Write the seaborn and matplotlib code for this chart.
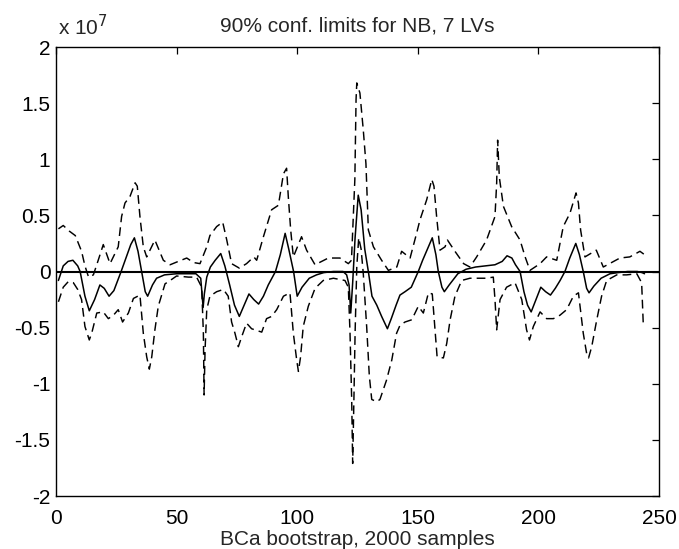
import numpy as np
import pandas as pd
import seaborn as sns
from matplotlib import pyplot as plt

# values, in units of 1e7
# solid line: the estimate
est_x = [1, 3, 5, 7, 9, 10, 12, 13.8, 16, 18.2,
         20, 22, 24, 27, 29, 31, 32.5, 34, 35.5, 37,
         38, 40, 41.7, 45, 50, 55, 58, 60, 61, 61.5,
         62.5, 64, 66, 68.3, 70, 72, 74, 76, 78, 80,
         82, 84, 86, 88, 91, 93, 95, 96.5, 98.5, 100,
         102, 105, 108, 111, 115, 119, 120.5, 121.5, 122.2, 123,
         124, 125.3, 126.5, 128, 129.5, 131, 133, 135, 137.4, 139,
         141, 142.6, 144.7, 147.3, 150.2, 152, 154, 156, 157.5, 158.5,
         160, 161, 163, 166.6, 170, 174, 178, 182, 185, 187,
         189, 190.5, 192.4, 194, 195.5, 197, 199, 201, 203, 205,
         207, 209, 211, 213, 215.5, 217, 218.6, 220, 221, 223,
         226, 229.7, 233, 237, 241, 243, 244]
est_y = [-0.08, 0.05, 0.09, 0.10, 0.05, 0.0, -0.22, -0.35, -0.25, -0.12,
         -0.15, -0.22, -0.17, 0.0, 0.12, 0.24, 0.30, 0.18, 0.0, -0.18,
         -0.22, -0.12, -0.06, -0.03, -0.02, -0.02, -0.02, -0.06, -0.32, -0.20,
         -0.05, 0.04, 0.10, 0.16, 0.05, -0.12, -0.30, -0.40, -0.30, -0.20,
         -0.25, -0.29, -0.22, -0.12, 0.0, 0.15, 0.34, 0.20, 0.0, -0.22,
         -0.14, -0.06, -0.03, -0.01, 0.0, 0.0, -0.03, -0.12, -0.37, -0.10,
         0.30, 0.68, 0.55, 0.20, 0.0, -0.22, -0.30, -0.40, -0.51, -0.42,
         -0.30, -0.21, -0.18, -0.14, 0.0, 0.10, 0.20, 0.30, 0.15, 0.0,
         -0.14, -0.18, -0.12, -0.02, 0.02, 0.04, 0.05, 0.06, 0.09, 0.14,
         0.12, 0.06, 0.0, -0.18, -0.30, -0.36, -0.25, -0.14, -0.18, -0.21,
         -0.15, -0.08, 0.0, 0.12, 0.25, 0.15, 0.0, -0.15, -0.19, -0.13,
         -0.06, -0.02, -0.01, 0.0, 0.0, -0.01, -0.02]

# upper 90% limit (dashed)
up_x = [1, 3, 5.5, 8, 10.6, 12, 13.5, 15.5, 17.5, 19.6,
        22.4, 25.8, 27.2, 28.6, 30.7, 32.8, 33.7, 34.8, 36.2, 37.6,
        41, 44.5, 47.3, 50.7, 54.2, 57, 59.7, 62.5, 63.8, 66.6,
        69.1, 70.8, 72.8, 76, 79, 82, 83.2, 86, 89.4, 92.2,
        94.3, 95.6, 96.3, 97.3, 98.4, 101.8, 103.9, 107.4, 112.9, 117.7,
        121.2, 122.5, 123.9, 124.4, 124.7, 126, 127.4, 128.5, 129.5, 131.6,
        135, 137.8, 141.3, 143.3, 146.8, 149.5, 150.9, 153.7, 155.8, 156.7,
        157.8, 159.2, 161.3, 162.3, 165.4, 169, 171.6, 174.4, 178.5, 182,
        182.7, 183.1, 183.8, 185.5, 188.9, 192.4, 194.5, 196.5, 200.7, 203.4,
        207.6, 210.3, 213.1, 215.6, 216.6, 217.5, 219.3, 224, 226.9, 233.8,
        237.9, 242.1, 244]
up_y = [0.38, 0.41, 0.36, 0.32, 0.18, 0.05, -0.05, -0.03, 0.10, 0.24,
        0.07, 0.22, 0.49, 0.61, 0.67, 0.79, 0.76, 0.49, 0.22, 0.13,
        0.28, 0.10, 0.06, 0.09, 0.12, 0.08, 0.07, 0.22, 0.32, 0.40,
        0.44, 0.28, 0.07, 0.03, 0.07, 0.13, 0.10, 0.31, 0.55, 0.59,
        0.87, 0.92, 0.67, 0.37, 0.13, 0.31, 0.19, 0.06, 0.12, 0.12,
        0.07, 0.10, 0.82, 1.53, 1.68, 1.59, 1.26, 0.96, 0.37, 0.22,
        0.10, 0.01, 0.04, 0.18, 0.12, 0.34, 0.46, 0.64, 0.82, 0.76,
        0.49, 0.19, 0.22, 0.28, 0.18, 0.07, 0.04, 0.13, 0.28, 0.49,
        0.79, 1.17, 0.84, 0.58, 0.40, 0.28, 0.13, 0.01, 0.07, 0.13,
        0.10, 0.40, 0.52, 0.70, 0.61, 0.37, 0.13, 0.19, 0.04, 0.12,
        0.13, 0.18, 0.15]

# lower 90% limit (dashed)
lo_x = [1, 3, 5.1, 7.2, 9, 10.6, 12, 13.8, 14.8, 16.9,
        19.6, 21.7, 23.8, 25.8, 27.6, 30, 32.1, 34.8, 36.2, 37.6,
        38.7, 39.7, 41, 42.4, 45.2, 48, 50, 54.9, 58.3, 60.4,
        61.1, 61.4, 61.8, 62.5, 63.8, 66.6, 69.4, 71.4, 72.8, 74.2,
        75.6, 77, 79, 81.1, 82.5, 85.3, 87.3, 89.4, 91.5, 94.3,
        97, 98.4, 99.8, 100.5, 101.4, 102.5, 104.6, 107.4, 110.8, 115,
        119.8, 121.2, 121.9, 122.6, 123, 123.5, 124, 124.7, 125.5, 126.5,
        127.4, 128.8, 129.9, 130.9, 133, 134.3, 137, 139.2, 141.2, 142.6,
        144.7, 147.5, 150.2, 152.3, 154.4, 156, 158, 160.6, 162, 163.4,
        165.4, 168.2, 171.6, 178.5, 181.3, 182, 182.7, 184.1, 186.8, 190.3,
        193.1, 195.1, 196.3, 197.9, 200.7, 203.4, 206.2, 208.9, 211.7, 214.5,
        216.6, 218.6, 220, 220.8, 222.1, 224.2, 226.2, 228.3, 232.5, 236.6,
        240.8, 242.8, 243.5]
lo_y = [-0.27, -0.14, -0.09, -0.10, -0.16, -0.25, -0.49, -0.61, -0.55, -0.37,
        -0.36, -0.42, -0.39, -0.34, -0.45, -0.37, -0.24, -0.21, -0.55, -0.76,
        -0.87, -0.76, -0.52, -0.31, -0.11, -0.07, -0.04, -0.05, -0.05, -0.14,
        -0.55, -1.10, -0.70, -0.34, -0.22, -0.18, -0.16, -0.22, -0.45, -0.55,
        -0.67, -0.58, -0.46, -0.51, -0.52, -0.54, -0.42, -0.40, -0.34, -0.22,
        -0.19, -0.55, -0.79, -0.89, -0.76, -0.49, -0.31, -0.15, -0.08, -0.06,
        -0.08, -0.14, -0.55, -1.15, -1.71, -1.15, -0.55, 0.04, 0.30, 0.20,
        -0.02, -0.49, -0.93, -1.14, -1.16, -1.14, -0.97, -0.79, -0.55, -0.48,
        -0.45, -0.43, -0.31, -0.37, -0.19, -0.20, -0.76, -0.77, -0.64, -0.43,
        -0.22, -0.08, -0.06, -0.06, -0.05, -0.25, -0.52, -0.25, -0.14, -0.10,
        -0.25, -0.52, -0.61, -0.49, -0.36, -0.42, -0.42, -0.39, -0.34, -0.22,
        -0.19, -0.55, -0.73, -0.77, -0.67, -0.43, -0.22, -0.08, -0.03, -0.03,
        -0.02, -0.10, -0.48]

xticks = [0, 50, 100, 150, 200, 250]
yticks = [-2, -1.5, -1, -0.5, 0, 0.5, 1, 1.5, 2]
ytick_labels = ['-2', '-1.5', '-1', '-0.5', '0', '0.5', '1', '1.5', '2']

sns.set_style('white')
plt.rcParams['font.family'] = ['Liberation Sans', 'DejaVu Sans']
plt.rcParams['axes.unicode_minus'] = False

fig = plt.figure(figsize=(6.79, 5.49), dpi=100)
ax = fig.add_axes([56/679, 1 - 496/549, 603/679, 449/549])

dash = (0, (6, 3.5))
sns.lineplot(x=up_x, y=up_y, ax=ax, color='k', lw=1.05, linestyle=dash, sort=False)
sns.lineplot(x=lo_x, y=lo_y, ax=ax, color='k', lw=1.05, linestyle=dash, sort=False)
sns.lineplot(x=est_x, y=est_y, ax=ax, color='k', lw=1.1, sort=False)
ax.axhline(0, color='k', lw=1.5)

ax.set_xlim(0, 250)
ax.set_ylim(-2, 2)
ax.set_xticks(xticks)
ax.set_yticks(yticks)
ax.set_yticklabels(ytick_labels)
ax.tick_params(direction='in', length=5, width=0.9, top=True, right=True,
               labelsize=15, colors='k')
ax.tick_params(axis='x', pad=9)
ax.tick_params(axis='y', pad=4)
for s in ax.spines.values():
    s.set_color('k')
    s.set_linewidth(1.0)

ax.set_xlabel('BCa bootstrap, 2000 samples', fontsize=15, labelpad=2)
ax.set_title('90% conf. limits for NB, 7 LVs', fontsize=15, pad=11)
ax.text(0.003, 1.018, r'x 10$^7$', transform=ax.transAxes, fontsize=15,
        ha='left', va='bottom')

fig.savefig('out.png', dpi=100, facecolor='white')
